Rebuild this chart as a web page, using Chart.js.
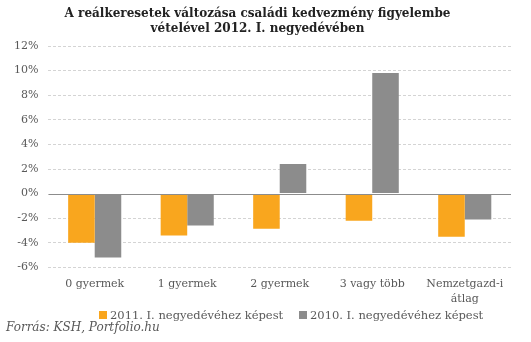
<!DOCTYPE html>
<html lang="hu">
<head>
<meta charset="UTF-8">
<title>Reálkeresetek változása</title>
<script src="https://cdn.jsdelivr.net/npm/chart.js"></script>
<style>
    body { margin: 0; background: #fff; }
    .wrap { position: relative; width: 531px; height: 342px; }
    .note { position: absolute; font: 11.5px "DejaVu Serif", serif; color: #595959; white-space: nowrap; }
    .key { position: absolute; top: 308px; display: flex; align-items: center; gap: 3px; }
    .key span { display: inline-block; width: 8px; height: 8px; }
    .source { left: 6px; top: 320px; font-style: italic; font-size: 12px; }
</style>
</head>
<body>
<div class="wrap">
    <canvas id="chart" width="531" height="342"></canvas>
    <div id="legend"></div>
    <div class="note source">Forrás: KSH, Portfolio.hu</div>
</div>
<script>
const categories = ['0 gyermek', '1 gyermek', '2 gyermek', '3 vagy több', ['Nemzetgazd-i', 'átlag']];
const seriesNames = ['2011. I. negyedévéhez képest', '2010. I. negyedévéhez képest'];
const vs2011 = [-4.0, -3.4, -2.85, -2.2, -3.5];
const vs2010 = [-5.2, -2.6, 2.4, 9.8, -2.1];
const yMin = -6, yMax = 12, yStep = 2;

const colors = ['#f9a61e', '#8c8c8c'];
const serif = '"DejaVu Serif", serif';
const textColor = '#595959';

// solid line at 0%, the other grid lines are dashed
const zeroLine = {
    id: 'zeroLine',
    afterDatasetsDraw(chart) {
        const y = chart.scales.y.getPixelForValue(0);
        const a = chart.chartArea;
        const ctx = chart.ctx;
        ctx.save();
        ctx.strokeStyle = '#8c8c8c';
        ctx.lineWidth = 1;
        ctx.beginPath();
        ctx.moveTo(a.left, Math.round(y) + 0.5);
        ctx.lineTo(a.right, Math.round(y) + 0.5);
        ctx.stroke();
        ctx.restore();
    }
};

const chart = new Chart(document.getElementById('chart'), {
    type: 'bar',
    data: {
        labels: categories,
        datasets: [
            { label: seriesNames[0], data: vs2011, backgroundColor: colors[0] },
            { label: seriesNames[1], data: vs2010, backgroundColor: colors[1] }
        ]
    },
    options: {
        responsive: false,
        animation: false,
        layout: { padding: { left: 4, right: 20, top: 2, bottom: 34 } },
        datasets: { bar: { categoryPercentage: 0.574, barPercentage: 1 } },
        scales: {
            x: {
                grid: { display: false },
                border: { display: false },
                ticks: { color: textColor, font: { family: serif, size: 11, lineHeight: 1.3 }, maxRotation: 0, padding: 2 }
            },
            y: {
                min: yMin, max: yMax,
                grid: {
                    color: ctx => ctx.tick.value === 0 ? 'rgba(0,0,0,0)' : '#d4d4d4',
                    drawTicks: false
                },
                border: { display: false, dash: [3, 2] },
                ticks: {
                    stepSize: yStep,
                    color: textColor,
                    font: { family: serif, size: 11 },
                    padding: 10,
                    callback: v => v + '%'
                }
            }
        },
        plugins: {
            title: {
                display: true,
                text: ['A reálkeresetek változása családi kedvezmény figyelembe', 'vételével 2012. I. negyedévében'],
                color: '#222',
                font: { family: serif, size: 12, weight: 'bold', lineHeight: 1.25 },
                padding: { top: 4, bottom: 10 }
            },
            legend: { display: false },
            tooltip: { enabled: false }
        }
    },
    plugins: [zeroLine]
});

// legend row under the axis labels
const legendX = [99, 299];
const legend = document.getElementById('legend');
chart.data.datasets.forEach((ds, i) => {
    const item = document.createElement('div');
    item.className = 'note key';
    item.style.left = legendX[i] + 'px';
    item.innerHTML = '<span style="background:' + ds.backgroundColor + '"></span>' + ds.label;
    legend.appendChild(item);
});
</script>
</body>
</html>
